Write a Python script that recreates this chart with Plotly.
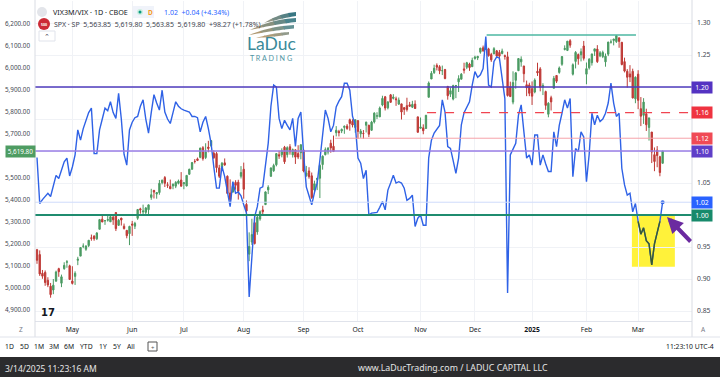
import plotly.graph_objects as go
import pandas as pd

# ---------------- data ----------------
HOLIDAYS = ["2024-05-27", "2024-06-19", "2024-07-04", "2024-09-02", "2024-11-28",
            "2024-12-25", "2025-01-01", "2025-01-09", "2025-01-20", "2025-02-17"]
_days = pd.bdate_range("2024-04-12", "2025-03-14")
DATES = [d.strftime("%Y-%m-%d") for d in _days if d.strftime("%Y-%m-%d") not in HOLIDAYS]

OPEN = [5171,5149,5064,5068,5032,5005,4988,5028,5085,5019,5085,5114,5098,
        5029,5050,5123,5142,5187,5173,5190,5225,5233,5221,5264,5310,5303,5305,5298,5319,5340,5282,5315,5278,5259,5244,
        5288,5278,5314,5357,5343,5341,5353,5409,5441,5424,5431,5476,5499,5466,5459,5461,5460,5473,5488,
        5471,5461,5514,5537,5573,5584,5591,5635,5590,5638,5644,5610,5608,5543,5544,5566,5505,5429,5433,5477,5478,5505,
        5537,5377,5151,5206,5294,5252,5311,5352,5376,5443,5505,5530,5557,5603,5603,5637,5603,5639,5602,5625,5608,5612,
        5624,5507,5529,5507,5443,5490,5496,5558,5603,5615,5655,5641,5703,5709,5711,5727,5733,5762,5755,5727,
        5758,5698,5700,5737,5737,5714,5752,5778,5775,5829,5866,5816,5875,5859,5857,5833,5834,5817,5826,5830,5819,5833,5775,
        5723,5725,5722,5864,5947,5976,6009,6003,5985,5990,5913,5878,5856,5917,5934,5946,5993,6000,6015,6003,
        6040,6043,6069,6089,6081,6084,6058,6061,6075,6068,6063,6053,6048,5912,5842,5941,5985,6025,6006,5921,5920,
        5903,5888,5982,5993,5910,5890,5787,5862,5905,5963,5977,6014,6081,6077,6121,5969,6027,6058,6057,6097,
        5969,5998,6021,6073,6083,6052,6049,6025,6060,6115,6122,6117,6134,6114,6026,5982,5970,5982,5857,
        5969,5812,5782,5789,5727,5706,5603,5624,5594,5563.85]
HIGH = [5175,5168,5079,5077,5046,5020,5038,5076,5089,5058,5114,5124,5103,
        5096,5073,5139,5181,5200,5191,5214,5240,5237,5251,5311,5325,5306,5325,5324,5327,5341,5311,5316,5290,5261,5280,
        5302,5298,5354,5362,5376,5365,5376,5448,5442,5432,5488,5490,5506,5478,5490,5472,5483,5490,5524,
        5479,5510,5539,5570,5583,5590,5635,5642,5655,5666,5670,5623,5615,5557,5570,5586,5509,5491,5480,5487,5489,5551,
        5567,5395,5250,5312,5330,5326,5350,5371,5436,5464,5545,5562,5609,5621,5632,5643,5641,5651,5631,5627,5646,5651,
        5626,5552,5546,5522,5485,5497,5560,5600,5636,5637,5671,5690,5733,5716,5722,5736,5742,5767,5764,5763,
        5758,5720,5715,5753,5739,5757,5796,5796,5822,5871,5870,5846,5879,5878,5867,5863,5835,5817,5862,5843,5848,5850,5775,
        5772,5741,5784,5936,5983,6012,6018,6010,6008,5993,5916,5908,5921,5920,5964,5974,6021,6025,6021,6044,
        6053,6052,6089,6099,6100,6089,6066,6092,6079,6079,6085,6058,6071,5935,5982,5978,6041,6050,6007,5940,5930,
        5936,5950,6021,6001,5928,5894,5842,5871,5961,5964,6004,6051,6100,6119,6128,6018,6074,6063,6086,6120,
        6022,6042,6062,6084,6101,6074,6076,6063,6116,6127,6129,6147,6135,6115,6044,5992,6010,5994,5959,
        5987,5865,5860,5812,5772,5706,5636,5642,5598,5619.80]
LOW = [5107,5052,5039,5007,5001,4953,4969,5027,5048,5001,5080,5089,5035,
       5013,5011,5101,5142,5178,5166,5183,5212,5212,5215,5264,5297,5284,5299,5297,5284,5256,5279,5281,5263,5223,5192,
       5234,5265,5307,5335,5331,5331,5327,5398,5404,5403,5421,5468,5456,5452,5448,5446,5451,5468,5458,
       5446,5459,5511,5535,5563,5574,5587,5576,5583,5614,5639,5584,5522,5497,5532,5553,5425,5390,5431,5444,5399,5495,
       5403,5306,5119,5193,5195,5239,5303,5325,5376,5424,5502,5525,5550,5584,5591,5561,5590,5603,5590,5561,5583,5582,
       5523,5503,5494,5402,5434,5442,5406,5535,5600,5604,5612,5615,5686,5686,5701,5698,5716,5712,5727,5703,
       5675,5680,5675,5704,5683,5712,5745,5765,5775,5823,5804,5809,5840,5854,5825,5829,5763,5784,5799,5823,5815,5811,5703,
       5723,5696,5722,5864,5947,5970,5986,5969,5965,5946,5853,5865,5850,5860,5888,5946,5972,5992,5984,6003,
       6035,6033,6062,6071,6081,6049,6025,6061,6051,6032,6059,6035,5867,5866,5832,5903,5983,6003,5932,5869,5869,
       5829,5882,5961,5891,5874,5807,5773,5804,5905,5929,5971,6007,6077,6074,6089,5963,5995,6012,6027,6031,
       5923,5990,6008,6052,6020,6046,6042,6003,6051,6108,6100,6111,6089,6009,5977,5908,5933,5859,5837,
       5810,5733,5743,5711,5667,5565,5528,5546,5505,5563.85]
CLOSE = [5123,5061,5051,5022,5011,4967,5010,5070,5071,5048,5100,5116,5036,
         5018,5064,5128,5181,5187,5188,5214,5223,5221,5247,5308,5297,5303,5308,5321,5307,5267,5305,5306,5267,5235,5277,
         5283,5291,5354,5352,5347,5361,5375,5421,5433,5431,5473,5487,5473,5464,5448,5469,5477,5483,5460,
         5475,5509,5537,5567,5572,5577,5633,5585,5615,5631,5667,5589,5544,5505,5564,5556,5427,5399,5459,5464,5436,5522,
         5446,5347,5186,5240,5199,5319,5344,5344,5434,5455,5543,5554,5608,5597,5621,5571,5635,5616,5626,5592,5592,5648,
         5529,5520,5503,5408,5471,5496,5554,5596,5626,5633,5634,5618,5714,5703,5718,5732,5722,5745,5738,5762,
         5709,5710,5699,5751,5696,5751,5792,5780,5815,5859,5815,5843,5841,5865,5853,5851,5797,5809,5808,5823,5832,5813,5705,
         5729,5712,5782,5929,5973,5996,6001,5984,5985,5949,5871,5894,5917,5917,5949,5969,5987,6021,5999,6032,
         6047,6050,6087,6075,6090,6053,6034,6085,6051,6051,6074,6050,5872,5867,5931,5975,6040,6037,5971,5907,5882,
         5869,5942,5975,5909,5918,5827,5837,5843,5950,5937,5997,6049,6086,6119,6101,6012,6068,6039,6071,6041,
         5994,6037,6061,6084,6026,6066,6068,6051,6115,6115,6129,6144,6118,6013,5983,5955,5956,5861,5955,
         5850,5778,5842,5739,5770,5615,5572,5599,5522,5619.80]

RATIO = [1.090,1.018,1.024,1.030,1.034,1.029,1.045,1.062,1.057,1.072,1.083,1.089,1.061,
         1.075,1.094,1.133,1.117,1.135,1.148,1.160,1.167,1.096,1.096,1.133,1.150,1.167,1.163,1.177,1.160,1.151,1.190,1.150,1.095,1.078,1.133,
         1.145,1.152,1.154,1.170,1.180,1.150,1.128,1.160,1.188,1.175,1.164,1.195,1.161,1.150,1.143,1.160,1.177,1.170,1.166,
         1.164,1.163,1.161,1.154,1.154,1.152,1.130,1.145,1.154,1.135,1.112,1.075,1.042,1.042,1.076,1.060,1.035,1.013,1.052,1.034,1.036,1.030,
         1.016,1.003,0.872,0.940,0.997,1.013,1.042,1.044,1.080,1.112,1.170,1.203,1.200,1.151,1.135,1.148,1.140,1.133,1.151,1.107,1.151,1.161,
         1.096,1.044,1.030,1.016,1.035,1.050,1.086,1.125,1.164,1.151,1.130,1.140,1.169,1.178,1.185,1.206,1.206,1.195,1.154,1.141,
         1.089,1.081,1.057,1.070,1.000,1.003,1.003,1.004,1.012,1.021,1.008,1.039,1.050,1.062,1.050,1.052,1.050,1.042,1.023,1.026,1.031,0.982,0.995,
         1.000,0.984,0.984,1.089,1.117,1.128,1.135,1.140,1.180,1.161,1.107,1.104,1.085,1.065,1.089,1.141,1.160,1.169,1.177,1.203,
         1.224,1.215,1.219,1.229,1.279,1.203,1.200,1.240,1.247,1.245,1.215,1.182,0.878,1.094,1.103,1.112,1.156,1.172,1.130,1.089,1.094,
         1.078,1.125,1.125,1.078,1.094,1.080,1.068,1.068,1.130,1.107,1.140,1.159,1.180,1.167,1.182,1.060,1.104,1.099,1.130,1.122,
         1.052,1.095,1.159,1.141,1.156,1.146,1.150,1.159,1.175,1.206,1.175,1.154,1.159,1.073,1.047,1.031,1.034,1.005,1.018,
         0.990,0.970,0.980,0.960,0.955,0.922,0.955,0.972,0.990,1.020]

MONTH_TICKS = ["2024-05-01", "2024-06-03", "2024-07-01", "2024-08-01", "2024-09-03", "2024-10-01",
               "2024-11-01", "2024-12-02", "2025-01-02", "2025-02-03", "2025-03-03"]
MONTH_LABELS = ["May", "Jun", "Jul", "Aug", "Sep", "Oct", "Nov", "Dec", "<b>2025</b>", "Feb", "Mar"]
PRICE_TICKS = [4900, 5000, 5100, 5200, 5300, 5400, 5500, 5700, 5800, 5900, 6000, 6100, 6200]
RATIO_TICKS = [0.85, 0.90, 0.95, 1.00, 1.05, 1.10, 1.15, 1.20, 1.25, 1.30]
RATIO_TICK_TEXT = ["0.85", "0.90", "0.95", "", "1.05", "", "", "", "1.25", "1.30"]

LAST_PRICE = 5619.80
LAST_RATIO = 1.02
RESIST_HIGH = 6147          # SPX high line
LEVEL_120 = 1.20
LEVEL_116 = 1.16
LEVEL_112 = 1.12
LEVEL_110 = 1.10
LEVEL_100 = 1.00

# ---------------- geometry helpers ----------------
W, H = 720, 377
def px(x):
    return x / W
def py(y):
    return 1 - y / H

UP, DN = "#4b9b63", "#bf3a36"
BLUE = "#2f62e6"
FONT = "Noto Sans"
TXT = "#131722"

fig = go.Figure()
fig.add_trace(go.Candlestick(
    x=DATES, open=OPEN, high=HIGH, low=LOW, close=CLOSE,
    increasing=dict(line=dict(color=UP, width=1), fillcolor=UP),
    decreasing=dict(line=dict(color=DN, width=1), fillcolor=DN),
    whiskerwidth=0, showlegend=False, hoverinfo="skip", xaxis="x", yaxis="y"))
fig.add_trace(go.Scatter(
    x=DATES, y=RATIO, mode="lines", line=dict(color=BLUE, width=1.4),
    showlegend=False, hoverinfo="skip", xaxis="x", yaxis="y2"))
# highlighted part of the line (inside yellow marker)
fig.add_trace(go.Scatter(
    x=DATES[221:230], y=RATIO[221:230], mode="lines", line=dict(color="#3a5a2c", width=1.4),
    showlegend=False, hoverinfo="skip", xaxis="x", yaxis="y2"))
fig.add_trace(go.Scatter(
    x=[DATES[-1]], y=[RATIO[-1]], mode="markers", marker=dict(color=BLUE, size=4),
    showlegend=False, hoverinfo="skip", xaxis="x", yaxis="y2"))

shapes = []
# yellow highlight (below traces)
shapes.append(dict(type="rect", xref="x", yref="y2", x0=218.7, x1=234.5, y0=0.919, y1=1.0,
                   fillcolor="#fff23a", line=dict(width=0), layer="below"))
# horizontal levels
def hline(y, color, width, dash="solid", x0=None, yref="y2"):
    if x0 is None:
        shapes.append(dict(type="line", xref="paper", yref=yref, x0=px(35), x1=px(692), y0=y, y1=y,
                           line=dict(color=color, width=width, dash=dash), layer="above"))
    else:
        shapes.append(dict(type="line", xref="x", yref=yref, x0=x0, x1=240.8, y0=y, y1=y,
                           line=dict(color=color, width=width, dash=dash), layer="above"))
hline(LAST_RATIO, "#cfdcfb", 1)
hline(LEVEL_112, "#f6a3a9", 1, x0=109.6)
hline(LEVEL_116, "#f04450", 1.2, dash="dash", x0=143.4)
hline(LEVEL_120, "#4f3bbd", 1.6)
hline(LEVEL_110, "#9a7ee6", 1.4)
hline(LEVEL_100, "#1f8c6f", 2)
shapes.append(dict(type="line", xref="x", yref="y", x0=165.3, x1=220.2, y0=RESIST_HIGH, y1=RESIST_HIGH,
                   line=dict(color="#4cb7a2", width=1.5), layer="above"))

# panel separators / frame
for xv in (35, 692):
    shapes.append(dict(type="line", xref="paper", yref="paper", x0=px(xv), x1=px(xv), y0=py(0), y1=py(337),
                       line=dict(color="#d9dce3", width=1)))
shapes.append(dict(type="line", xref="paper", yref="paper", x0=0, x1=1, y0=py(337), y1=py(337),
                   line=dict(color="#e0e3eb", width=1)))
# footer band
shapes.append(dict(type="rect", xref="paper", yref="paper", x0=0, x1=1, y0=0, y1=py(357),
                   fillcolor="#2b2b2d", line=dict(width=0)))

# legend icons
shapes.append(dict(type="circle", xref="paper", yref="paper", x0=px(37), x1=px(47), y0=py(17), y1=py(7),
                   fillcolor="#e3e5ea", line=dict(width=0)))
shapes.append(dict(type="rect", xref="paper", yref="paper", x0=px(133), x1=px(154), y0=py(18), y1=py(6),
                   fillcolor="#f0f3fa", line=dict(width=0)))
shapes.append(dict(type="circle", xref="paper", yref="paper", x0=px(137), x1=px(143), y0=py(15), y1=py(9),
                   fillcolor="#cdeee2", line=dict(width=0)))
shapes.append(dict(type="circle", xref="paper", yref="paper", x0=px(138.5), x1=px(141.5), y0=py(13.5), y1=py(10.5),
                   fillcolor="#089981", line=dict(width=0)))
shapes.append(dict(type="circle", xref="paper", yref="paper", x0=px(38), x1=px(50), y0=py(30), y1=py(18),
                   fillcolor="#cc2b36", line=dict(width=0)))
shapes.append(dict(type="rect", xref="paper", yref="paper", x0=px(39), x1=px(55), y0=py(41), y1=py(31),
                   fillcolor="white", line=dict(color="#e0e3eb", width=1)))
# calendar icon
shapes.append(dict(type="rect", xref="paper", yref="paper", x0=px(148), x1=px(157), y0=py(351), y1=py(342),
                   line=dict(color="#555", width=1)))

# logo waves (decorative swooshes, tan on the left blending to teal on the right)
def _q(p0, p1, p2, s):
    return ((1 - s) ** 2 * p0[0] + 2 * (1 - s) * s * p1[0] + s * s * p2[0],
            (1 - s) ** 2 * p0[1] + 2 * (1 - s) * s * p1[1] + s * s * p2[1])
def _mix(c0, c1, f):
    a = [int(c0[i:i + 2], 16) for i in (1, 3, 5)]
    b = [int(c1[i:i + 2], 16) for i in (1, 3, 5)]
    return "#" + "".join(f"{int(round(a[k] + (b[k] - a[k]) * f)):02x}" for k in range(3))
def wave(xl, yl, xr, yr, t, c_left, c_right, parts=4):
    mx = (xl + xr) / 2
    top = ((xl, yl), (mx, yr + 1), (xr, yr))
    bot = ((xl, yl), (mx + 4, yr + t + 2), (xr, yr + t))
    for k in range(parts):
        s0, s1 = k / parts, (k + 1) / parts + 0.02
        s1 = min(s1, 1.0)
        steps = [s0 + (s1 - s0) * j / 4 for j in range(5)]
        pts = [_q(*top, s) for s in steps] + [_q(*bot, s) for s in reversed(steps)]
        path = "M " + " L ".join(f"{px(a):.5f},{py(b):.5f}" for a, b in pts) + " Z"
        shapes.append(dict(type="path", xref="paper", yref="paper", path=path,
                           fillcolor=_mix(c_left, c_right, (k + 0.5) / parts), line=dict(width=0)))
wave(264, 23, 296, 12, 4.0, "#9e9a86", "#2b7283")
wave(250, 30, 296, 18, 4.0, "#b59a74", "#3a8090")
wave(249, 35, 294, 25, 3.4, "#bd9a6c", "#56909a")
wave(256, 38, 289, 32, 2.6, "#c29c6a", "#8b9a90")

annotations = []
def text(x, y, s, size=7, color=TXT, anchor="left", family=FONT, **kw):
    annotations.append(dict(xref="paper", yref="paper", x=px(x), y=py(y), text=s, showarrow=False,
                            xanchor=anchor, yanchor="middle", font=dict(size=size, color=color, family=family), **kw))

text(51, 12, "VIX3M/VIX · 1D · CBOE", 7.2)
text(146, 12, "<b>D</b>", 6.5, "#f59b1c")
text(162, 12, "1.02  +0.04 (+4.34%)", 7.0, "#2962ff")
text(44, 24, "<b>500</b>", 3.6, "white", anchor="center")
text(52, 24, "SPX · SP  5,563.85  5,619.80  5,563.85  5,619.80  +98.27 (+1.78%)", 7.0, "#434651")
text(47, 36.5, "⌃", 7, "#434651", anchor="center")
text(47.5, 312, "<b>17</b>", 10, "#131722", anchor="center", family="DejaVu Sans")
text(271, 43.5, "LaDuc", 17.5, "#3a8a9a", anchor="center", family="Lato")
text(271, 58.5, "T R A D I N G", 7.2, "#4f95a3", anchor="center", family="Lato")

# axis row icons
text(21, 329, "Z", 6.5, "#787b86", anchor="center")
text(703, 329, "A", 6.5, "#787b86", anchor="center")
# toolbar
tb = [("1D", 9), ("5D", 24), ("1M", 39), ("3M", 54), ("6M", 69), ("YTD", 86), ("1Y", 103), ("5Y", 117), ("All", 131)]
for s, xx in tb:
    text(xx, 346, s, 6.8, TXT, anchor="center")
text(152.5, 347.5, "+", 6, "#555", anchor="center")
text(716, 346, "11:23:10 UTC-4", 6.8, TXT, anchor="right")
# footer
text(3, 368, "3/14/2025 11:23:16 AM", 8.5, "#e6e6e6")
text(453, 368, "www.LaDucTrading.com / LADUC CAPITAL LLC", 8.8, "#e6e6e6", anchor="center")

# axis value boxes
def rbox(val, s, bg):
    annotations.append(dict(xref="paper", yref="y2", x=px(702), y=val, text=s, showarrow=False,
                            xanchor="center", yanchor="middle", bgcolor=bg, borderpad=1, width=18,
                            font=dict(size=6.8, color="white", family=FONT)))
rbox(LEVEL_120, "1.20", "#5433c2")
rbox(LEVEL_116, "1.16", "#ef3340")
rbox(LEVEL_112, "1.12", "#f04a55")
rbox(LEVEL_110, "1.10", "#5f3fc8")
rbox(LAST_RATIO, "1.02", "#2962ff")
rbox(LEVEL_100, "1.00", "#178a6b")
annotations.append(dict(xref="paper", yref="y", x=px(20.5), y=LAST_PRICE, text="5,619.80", showarrow=False,
                        xanchor="center", yanchor="middle", bgcolor="#4e9c62", borderpad=1, width=27,
                        font=dict(size=6.3, color="white", family=FONT)))
# purple arrow
annotations.append(dict(xref="paper", yref="paper", x=px(667), y=py(217), ax=25, ay=26, axref="pixel", ayref="pixel",
                        text="", showarrow=True, arrowhead=2, arrowsize=0.8, arrowwidth=4, arrowcolor="#6b2aa0"))

fig.update_layout(
    width=W, height=H, margin=dict(l=0, r=0, t=0, b=0),
    paper_bgcolor="white", plot_bgcolor="white",
    font=dict(family=FONT, color=TXT),
    showlegend=False,
    xaxis=dict(type="category", domain=[px(35), px(692)], range=[-0.735, 240.8],
               tickmode="array", tickvals=MONTH_TICKS, ticktext=MONTH_LABELS,
               showgrid=True, gridcolor="#f0f2f6", gridwidth=1, ticks="",
               tickfont=dict(size=6.8, color=TXT), ticklabelstandoff=2,
               showline=True, linecolor="#e0e3eb", zeroline=False,
               rangeslider=dict(visible=False), anchor="y"),
    yaxis=dict(domain=[py(321), py(1)], range=[4847.1, 6301.6], side="left",
               tickmode="array", tickvals=PRICE_TICKS, tickformat=",.2f",
               showgrid=False, ticks="", tickfont=dict(size=6.3, color="#434651"),
               ticklabelstandoff=4, zeroline=False, showline=False),
    yaxis2=dict(overlaying="y", side="right", anchor="x", range=[0.8344, 1.3344],
                tickmode="array", tickvals=RATIO_TICKS, ticktext=RATIO_TICK_TEXT,
                showgrid=True, gridcolor="#f0f2f6", ticks="", tickfont=dict(size=6.8, color="#434651"),
                ticklabelstandoff=4, zeroline=False, showline=False),
    shapes=shapes, annotations=annotations,
)
fig.write_html("out.html", config={"displayModeBar": False},
               post_script="document.body.style.margin='0';document.body.style.overflow='hidden';")
